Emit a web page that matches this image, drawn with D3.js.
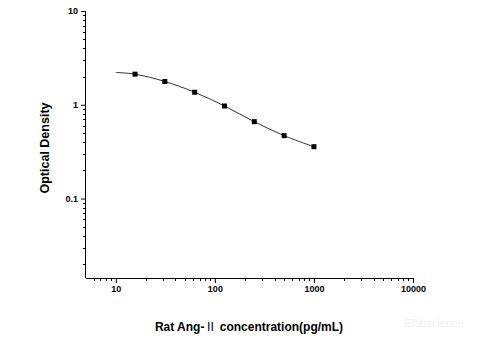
<!DOCTYPE html>
<html>
<head>
<meta charset="utf-8">
<script src="https://cdn.jsdelivr.net/npm/d3@7"></script>
<style>
html,body{margin:0;padding:0;background:#fff;}
svg{display:block;}
text{font-family:Arial,"Liberation Sans",sans-serif;}
</style>
</head>
<body>
<svg id="chart" width="480" height="360"></svg>
<script>
// Standard points
const concentrations = [15.63, 31.25, 62.5, 125, 250, 500, 1000];
const odValues = [2.12, 1.77, 1.36, 0.97, 0.66, 0.468, 0.357];
// Fitted curve start
const curveStartX = [10];
const curveStartY = [2.21];
const xTickLabels = ["10", "100", "1000", "10000"];
const yTickLabels = ["0.1", "1", "10"];
const xLabelParts = ["Rat Ang-", "\u2161", " concentration(pg/mL)"];
const yLabel = "Optical Density";

const svg = d3.select("#chart");
const x = d3.scaleLog().domain([5, 10000]).range([86, 413]);
const y = d3.scaleLog().domain([0.0142, 10]).range([278, 11]);

// minor ticks
const xMinor = [];
[1, 10, 100, 1000].forEach(d => { for (let k = 2; k <= 9; k++) { const v = d * k; if (v > 5 && v < 10000) xMinor.push(v); } });
const yMinor = [];
[0.01, 0.1, 1].forEach(d => { for (let k = 2; k <= 9; k++) { const v = d * k; if (v > 0.0142 && v < 10) yMinor.push(+v.toPrecision(3)); } });

const axisColor = "#000";
// X axis
const gx = svg.append("g").attr("transform", "translate(0,278)");
gx.call(d3.axisBottom(x).tickValues(xTickLabels.map(Number)).tickFormat(d => d).tickSize(5).tickPadding(3));
gx.call(g => g.select(".domain").attr("d", `M${x.range()[0]},0.5H${x.range()[1]}`));
gx.selectAll(".tick line").attr("stroke-width", 1);
gx.selectAll(".tick text").attr("font-size", 9).attr("font-weight", "bold").attr("font-family", "Arial, 'Liberation Sans', sans-serif");
gx.selectAll(".minor").data(xMinor).enter().append("line")
  .attr("x1", d => Math.round(x(d)) + 0.5).attr("x2", d => Math.round(x(d)) + 0.5)
  .attr("y1", 0).attr("y2", 3).attr("stroke", axisColor);

// Y axis
const gy = svg.append("g").attr("transform", "translate(86,0)");
gy.call(d3.axisLeft(y).tickValues(yTickLabels.map(Number)).tickFormat(d => d).tickSize(5).tickPadding(3));
gy.call(g => g.select(".domain").attr("d", `M-0.5,${y.range()[0]}V${y.range()[1]}`));
gy.selectAll(".tick text").attr("font-size", 9).attr("font-weight", "bold").attr("font-family", "Arial, 'Liberation Sans', sans-serif");
gy.selectAll(".minor").data(yMinor).enter().append("line")
  .attr("y1", d => Math.round(y(d)) + 0.5).attr("y2", d => Math.round(y(d)) + 0.5)
  .attr("x1", 0).attr("x2", -3).attr("stroke", axisColor);

// Curve
const curvePts = curveStartX.map((c, i) => [c, curveStartY[i]]).concat(concentrations.map((c, i) => [c, odValues[i]]));
const line = d3.line().x(d => x(d[0])).y(d => y(d[1])).curve(d3.curveCatmullRom.alpha(0.5));
svg.append("path").datum(curvePts).attr("d", line)
  .attr("fill", "none").attr("stroke", "#333").attr("stroke-width", 1);

// Markers
svg.selectAll(".pt").data(concentrations).enter().append("rect")
  .attr("x", (d) => x(d) - 2.5).attr("y", (d, i) => y(odValues[i]) - 2.5)
  .attr("width", 5).attr("height", 5).attr("fill", "#000");

// Labels
const xl = svg.append("text").attr("x", 249).attr("y", 331).attr("text-anchor", "middle")
  .attr("font-size", 12).attr("font-weight", "bold");
xl.append("tspan").text(xLabelParts[0]);
xl.append("tspan").attr("font-family", "'Noto Sans CJK SC', 'DejaVu Serif', serif").attr("font-weight", "normal").text(xLabelParts[1]);
xl.append("tspan").text(xLabelParts[2]);
svg.append("text").attr("transform", "translate(49,148) rotate(-90)").attr("text-anchor", "middle")
  .attr("font-size", 12.5).attr("font-weight", "bold").text(yLabel);

// Watermark
svg.append("text").attr("x", 434).attr("y", 327).attr("text-anchor", "middle")
  .attr("font-size", 11).attr("fill", "#f0f0f0").text("Elabscience");
</script>
</body>
</html>
